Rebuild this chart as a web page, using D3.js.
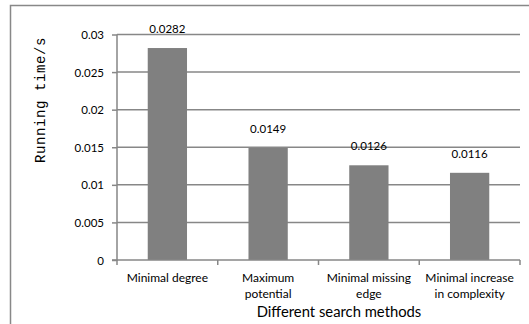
<!DOCTYPE html>
<html>
<head>
<meta charset="utf-8">
<script src="https://cdn.jsdelivr.net/npm/d3@7"></script>
<style>
  body { margin: 0; background: #fff; }
  svg text { fill: #000; }
</style>
</head>
<body>
<svg id="chart"></svg>
<script>
const methods = [
    ['Minimal degree'],
    ['Maximum', 'potential'],
    ['Minimal missing', 'edge'],
    ['Minimal increase', 'in complexity'],
];
const times = [0.0282, 0.0149, 0.0126, 0.0116];
const yTicks = [0, 0.005, 0.01, 0.015, 0.02, 0.025, 0.03];
const yTickLabels = ['0', '0.005', '0.01', '0.015', '0.02', '0.025', '0.03'];

const width = 529, height = 324;
const margin = { top: 34.5, right: 9, bottom: 64, left: 117 };

const svg = d3.select('#chart').attr('width', width).attr('height', height);

// outer frame (right/bottom edges fall outside the picture)
svg.append('rect')
    .attr('x', 10.5).attr('y', 5.5)
    .attr('width', 540).attr('height', 340)
    .attr('fill', 'none').attr('stroke', '#888').attr('stroke-width', 1.5);

const x = d3.scaleBand()
    .domain(d3.range(methods.length))
    .range([margin.left, width - margin.right])
    .paddingInner(0.61).paddingOuter(0.305);

const y = d3.scaleLinear().domain([0, 0.03]).range([height - margin.bottom, margin.top]);

// grid lines
svg.append('g')
    .selectAll('line')
    .data(yTicks.slice(1))
    .join('line')
    .attr('x1', margin.left).attr('x2', width - margin.right)
    .attr('y1', (d) => y(d)).attr('y2', (d) => y(d))
    .attr('stroke', '#878787').attr('stroke-width', 1.5);

// y axis
const yAxis = d3.axisLeft(y).tickValues(yTicks).tickSize(5).tickPadding(8)
    .tickFormat((d, i) => yTickLabels[i]);
const gy = svg.append('g').attr('transform', `translate(${margin.left},0)`).call(yAxis);
gy.select('.domain').attr('stroke', '#878787').attr('stroke-width', 1.5).attr('d', `M-5,${y(0)}H0V${y(0.03)}`);
gy.selectAll('.tick line').attr('stroke', '#878787').attr('stroke-width', 1.5);
gy.selectAll('.tick text').attr('font-family', 'Lato, "Open Sans", sans-serif').attr('font-size', 11.5).attr('dy', '0.35em');

// bars
svg.append('g')
    .selectAll('rect')
    .data(times)
    .join('rect')
    .attr('x', (d, i) => x(i))
    .attr('y', (d) => y(d))
    .attr('width', x.bandwidth())
    .attr('height', (d) => y(0) - y(d))
    .attr('fill', '#808080');

// value labels
svg.append('g')
    .selectAll('text')
    .data(times)
    .join('text')
    .attr('x', (d, i) => x(i) + x.bandwidth() / 2)
    .attr('y', (d) => y(d) - 19)
    .attr('dy', '0.35em')
    .attr('text-anchor', 'middle')
    .attr('font-family', 'Lato, "Open Sans", sans-serif')
    .attr('font-size', 11.5)
    .text((d) => d.toString());

// x axis
const step = x.step();
const xEdges = d3.range(methods.length + 1).map((i) => margin.left + i * step);
const gx = svg.append('g');
gx.append('line')
    .attr('x1', margin.left).attr('x2', width - margin.right)
    .attr('y1', y(0)).attr('y2', y(0))
    .attr('stroke', '#878787').attr('stroke-width', 1.5);
gx.selectAll('.xtick')
    .data(xEdges)
    .join('line')
    .attr('class', 'xtick')
    .attr('x1', (d) => d).attr('x2', (d) => d)
    .attr('y1', y(0)).attr('y2', y(0) + 5)
    .attr('stroke', '#878787').attr('stroke-width', 1.5);

const labels = gx.selectAll('.xlabel')
    .data(methods)
    .join('text')
    .attr('class', 'xlabel')
    .attr('x', (d, i) => x(i) + x.bandwidth() / 2)
    .attr('y', y(0) + 18)
    .attr('dy', '0.35em')
    .attr('text-anchor', 'middle')
    .attr('font-family', 'Lato, "Open Sans", sans-serif')
    .attr('font-size', 12);
labels.selectAll('tspan')
    .data((d) => d)
    .join('tspan')
    .attr('x', function () { return this.parentNode.getAttribute('x'); })
    .attr('dy', (d, i) => (i === 0 ? '0.35em' : 16))
    .text((d) => d);

// axis titles
svg.append('text')
    .attr('x', 339).attr('y', 312)
    .attr('dy', '0.35em')
    .attr('text-anchor', 'middle')
    .attr('font-family', 'Lato, "Open Sans", sans-serif')
    .attr('font-size', 14.8)
    .text('Different search methods');

svg.append('text')
    .attr('transform', 'translate(40,100) rotate(-90)')
    .attr('dy', '0.35em')
    .attr('text-anchor', 'middle')
    .attr('font-family', '"Liberation Mono", monospace')
    .attr('font-size', 14)
    .attr('letter-spacing', 0.6)
    .text('Running time/s');
</script>
</body>
</html>
